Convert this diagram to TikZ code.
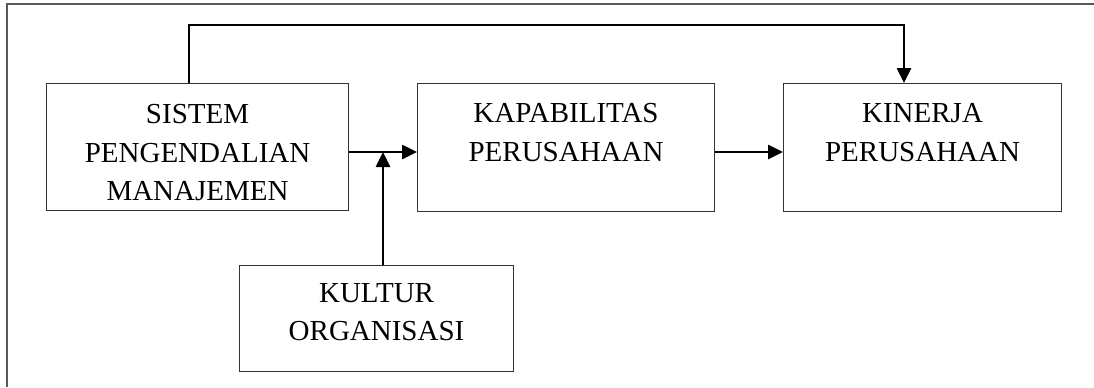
\documentclass[tikz,border=0pt]{standalone}
\usepackage{fontspec}
\setmainfont{Liberation Serif}
\usetikzlibrary{arrows.meta}
\begin{document}
\begin{tikzpicture}[x=0.5pt,y=-0.5pt,
  frame/.style={draw=black!65, line width=0.6pt},
  box/.style={draw=black!80, line width=0.55pt, inner sep=0pt, anchor=north west, rectangle},
  boxtext/.style={font=\fontsize{14.5}{19.3}\selectfont, align=center, inner sep=0pt, anchor=north},
  link/.style={line width=1.3pt, -{Triangle[length=7.5pt,width=7pt]}}]
  \useasboundingbox (0,0) rectangle (1094,387);

  % outer frame
  \draw[frame] (1094,4) -- (7,4) -- (7,387);

  % boxes
  \node[box, minimum width=151pt, minimum height=63.5pt] (smc) at (46,83) {};
  \node[box, minimum width=148.5pt, minimum height=64pt] (kap) at (417,83) {};
  \node[box, minimum width=139pt, minimum height=64pt] (kin) at (783,83) {};
  \node[box, minimum width=137pt, minimum height=53pt] (kul) at (239,265) {};

  % box labels
  \node[boxtext] (smct) at ([yshift=-10.5pt]smc.north) {SISTEM\\PENGENDALIAN\\MANAJEMEN};
  \node[boxtext] (kapt) at ([yshift=-10pt]kap.north) {KAPABILITAS\\PERUSAHAAN};
  \node[boxtext] (kint) at ([yshift=-10pt]kin.north) {KINERJA\\PERUSAHAAN};
  \node[boxtext] (kult) at ([yshift=-9pt]kul.north) {KULTUR\\ORGANISASI};

  % routing points
  \coordinate (j) at (383,152);
  \coordinate (fa) at (189,25);
  \coordinate (fb) at (904,25);

  % connectors
  \draw[link] (smc.east |- j) -- (kap.west |- j);
  \draw[link] (kul.north -| j) -- (j);
  \draw[link] (kap.east |- j) -- (kin.west |- j);
  \draw[link] (smc.north -| fa) -- (fa) -- (fb) -- (kin.north -| fb);
\end{tikzpicture}
\end{document}
